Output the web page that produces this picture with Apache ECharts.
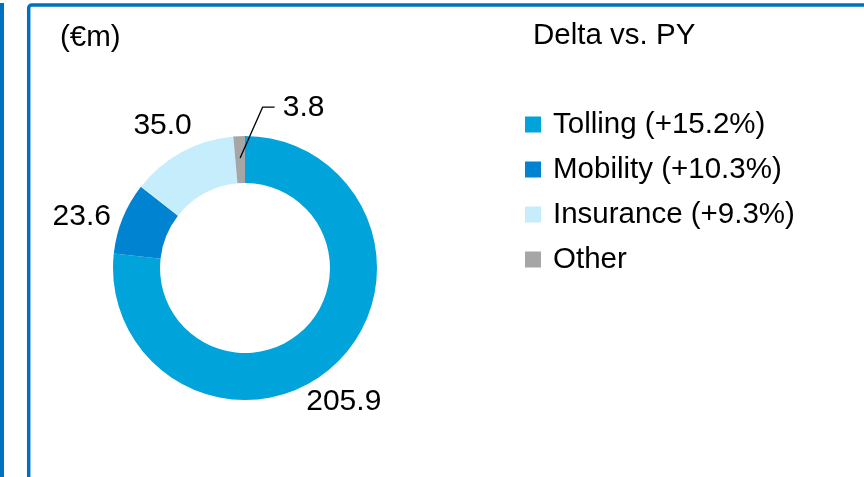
<!DOCTYPE html>
<html>
<head>
<meta charset="utf-8">
<script src="https://cdn.jsdelivr.net/npm/echarts@6/dist/echarts.min.js"></script>
<style>
  html, body { margin: 0; padding: 0; background: #fff; }
  #chart { width: 864px; height: 477px; }
</style>
</head>
<body>
<div id="chart"></div>
<script>
// Revenue split by business line (€m) with year-on-year change
const categories = ['Tolling', 'Mobility', 'Insurance', 'Other'];
const values = [205.9, 23.6, 35.0, 3.8];
const deltas = ['+15.2%', '+10.3%', '+9.3%', null];

const colors = ['#00A3DA', '#0083D0', '#C6EDFB', '#A6A6A6'];
const FONT = '"Liberation Sans", Arial, sans-serif';
const TEXT = '#000000';
const FRAME = '#0070C0';

// Donut geometry (px) and label placement around it
const CENTER = [245, 268];
const RADIUS = [85, 132];
const LABEL_R = 166;
const LEADER_R = 110;
const LABEL_NUDGE = [[-12, 10], [-9.5, 11.5], [-3, 4], [66, 6]];
const LEADER_INDEX = 3;       // the thin slice gets a leader line to its label
const LEADER_GAP = 29;        // distance from label centre back to the line end
const LEADER_FLAT = 12;       // horizontal run of the leader

const total = values.reduce((a, b) => a + b, 0);
// angle (radians, clockwise from 12 o'clock) of the middle of slice i
function midAngle(i) {
  let cum = 0;
  for (let k = 0; k < i; k++) cum += values[k];
  return (cum + values[i] / 2) / total * 2 * Math.PI;
}
function polar(theta, r) {
  return [CENTER[0] + r * Math.sin(theta), CENTER[1] - r * Math.cos(theta)];
}
function labelPos(i) {
  const p = polar(midAngle(i), LABEL_R);
  return [p[0] + LABEL_NUDGE[i][0], p[1] + LABEL_NUDGE[i][1]];
}

// leader polyline: from inside the slice up to the left of its label
const leaderLabel = labelPos(LEADER_INDEX);
const leaderStart = polar(midAngle(LEADER_INDEX), LEADER_R);
const leaderEndX = leaderLabel[0] - LEADER_GAP;
const leaderPoints = [
  leaderStart,
  [leaderEndX - LEADER_FLAT, leaderLabel[1] - 1],
  [leaderEndX, leaderLabel[1] - 1]
];

const chart = echarts.init(document.getElementById('chart'), null, { renderer: 'canvas' });

const titleStyle = { fontSize: 29.5, fontWeight: 'normal', color: TEXT, fontFamily: FONT, lineHeight: 30 };

chart.setOption({
  animation: false,
  backgroundColor: '#ffffff',
  title: [
    { text: '(€m)', left: 60, top: 23, padding: 0, textStyle: titleStyle },
    { text: 'Delta vs. PY', left: 533, top: 21, padding: 0, textStyle: titleStyle }
  ],
  legend: {
    orient: 'vertical',
    left: 525,
    top: 108,
    padding: 0,
    itemWidth: 16,
    itemHeight: 16,
    itemGap: 12,
    icon: 'rect',
    selectedMode: false,
    data: categories,
    textStyle: { fontSize: 29.5, lineHeight: 33, color: TEXT, fontFamily: FONT, padding: [0, 0, 0, 7] },
    formatter: function (name) {
      const i = categories.indexOf(name);
      return deltas[i] ? name + ' (' + deltas[i] + ')' : name;
    }
  },
  graphic: [
    { type: 'rect', silent: true, shape: { x: 0, y: 3, width: 4, height: 480 }, style: { fill: FRAME } },
    { type: 'rect', silent: true, shape: { x: 28.7, y: 5, width: 900, height: 520, r: 3 },
      style: { fill: null, stroke: FRAME, lineWidth: 3.5 } },
    { type: 'polyline', silent: true, z: 100, shape: { points: leaderPoints },
      style: { fill: null, stroke: '#000000', lineWidth: 1.3 } }
  ],
  series: [{
    type: 'pie',
    center: CENTER,
    radius: RADIUS,
    startAngle: 90,
    clockwise: true,
    avoidLabelOverlap: false,
    silent: true,
    data: values.map((v, i) => ({
      value: v,
      name: categories[i],
      itemStyle: { color: colors[i] }
    })),
    label: {
      show: true,
      position: 'outside',
      fontSize: 30,
      color: TEXT,
      fontFamily: FONT,
      formatter: p => p.value.toFixed(1)
    },
    labelLine: { show: false },
    labelLayout: function (p) {
      const pos = labelPos(p.dataIndex);
      return { x: pos[0], y: pos[1], align: 'center', verticalAlign: 'middle' };
    }
  }]
});
</script>
</body>
</html>
